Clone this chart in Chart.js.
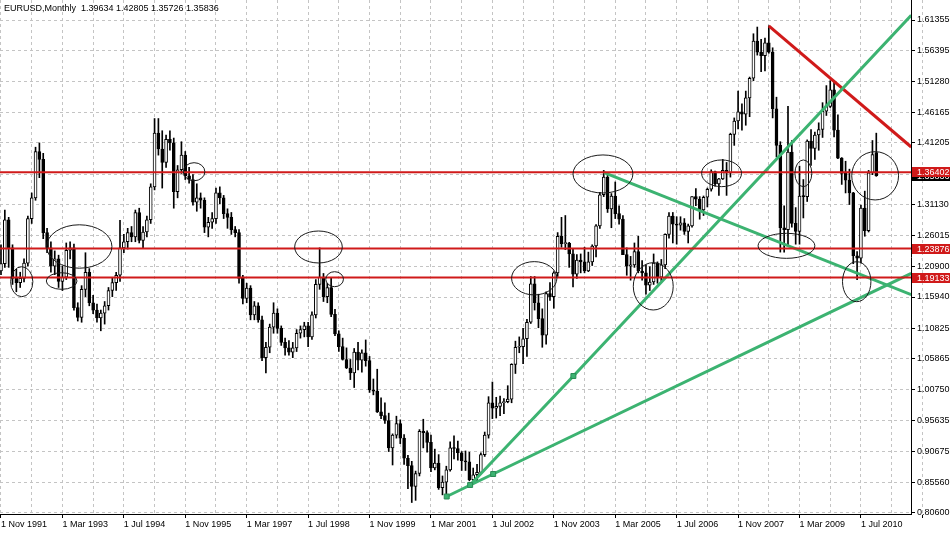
<!DOCTYPE html>
<html>
<head>
<meta charset="utf-8">
<title>EURUSD Monthly</title>
<script src="https://cdn.jsdelivr.net/npm/chart.js@4.4.1/dist/chart.umd.min.js"></script>
<style>
  html, body { margin: 0; padding: 0; background: #fff; }
  #wrap { position: relative; width: 950px; height: 534px; }
</style>
</head>
<body>
<div id="wrap"><canvas id="chart" width="950" height="534"></canvas></div>
<script>
// EURUSD monthly bars, one entry per month from Nov 1991 to Nov 2010
const symbol = 'EURUSD';
const period = 'Monthly';

const opens = [
  1.202, 1.214,
  1.286, 1.240, 1.190, 1.183, 1.190, 1.215, 1.288, 1.322, 1.398, 1.385, 1.265, 1.240,
  1.210, 1.222, 1.185, 1.192, 1.236, 1.240, 1.142, 1.126, 1.172, 1.200, 1.150, 1.138,
  1.125, 1.133, 1.145, 1.170, 1.183, 1.195, 1.240, 1.250, 1.265, 1.258, 1.298, 1.252,
  1.266, 1.286, 1.340, 1.428, 1.402, 1.380, 1.418, 1.412, 1.332, 1.368, 1.392, 1.358,
  1.352, 1.315, 1.322, 1.318, 1.274, 1.282, 1.288, 1.330, 1.322, 1.296, 1.290, 1.270,
  1.265, 1.190, 1.157, 1.174, 1.130, 1.145, 1.122, 1.060, 1.077, 1.110, 1.133, 1.108,
  1.085, 1.076, 1.069, 1.076, 1.100, 1.106, 1.112, 1.094, 1.130, 1.180, 1.192, 1.160,
  1.175, 1.131, 1.099, 1.078, 1.057, 1.043, 1.035, 1.069, 1.056, 1.068, 1.055, 1.007,
  1.005, 0.971, 0.965, 0.957, 0.912, 0.933, 0.952, 0.928, 0.895, 0.883, 0.849, 0.870,
  0.939, 0.937, 0.921, 0.879, 0.887, 0.847, 0.856, 0.876, 0.912, 0.911, 0.904, 0.891,
  0.889, 0.860, 0.868, 0.872, 0.901, 0.933, 0.986, 0.977, 0.980, 0.986, 0.988, 0.992,
  1.049, 1.077, 1.078, 1.091, 1.118, 1.181, 1.150, 1.124, 1.097, 1.165, 1.160, 1.199,
  1.259, 1.247, 1.248, 1.230, 1.197, 1.220, 1.217, 1.202, 1.217, 1.243, 1.276, 1.327,
  1.356, 1.304, 1.325, 1.296, 1.287, 1.229, 1.210, 1.212, 1.234, 1.202, 1.199, 1.179,
  1.184, 1.215, 1.192, 1.212, 1.262, 1.292, 1.279, 1.277, 1.281, 1.267, 1.276, 1.324,
  1.320, 1.302, 1.323, 1.336, 1.365, 1.345, 1.353, 1.367, 1.363, 1.426, 1.448, 1.463,
  1.459, 1.486, 1.518, 1.579, 1.561, 1.555, 1.576, 1.561, 1.468, 1.408, 1.273, 1.270,
  1.397, 1.280, 1.267, 1.325, 1.324, 1.415, 1.403, 1.425, 1.434, 1.464, 1.472, 1.499,
  1.433, 1.387, 1.362, 1.351, 1.330, 1.227, 1.223, 1.305, 1.268, 1.363, 1.39634
];

const highs = [
  1.245, 1.302,
  1.290, 1.245, 1.205, 1.200, 1.222, 1.292, 1.330, 1.405, 1.412, 1.395, 1.272, 1.250,
  1.235, 1.228, 1.210, 1.248, 1.250, 1.246, 1.150, 1.178, 1.232, 1.206, 1.162, 1.148,
  1.138, 1.152, 1.175, 1.190, 1.200, 1.285, 1.262, 1.272, 1.275, 1.302, 1.305, 1.275,
  1.292, 1.345, 1.452, 1.452, 1.432, 1.425, 1.432, 1.420, 1.375, 1.414, 1.398, 1.372,
  1.360, 1.345, 1.330, 1.322, 1.290, 1.298, 1.338, 1.340, 1.326, 1.304, 1.298, 1.275,
  1.270, 1.195, 1.182, 1.178, 1.152, 1.150, 1.128, 1.085, 1.115, 1.150, 1.140, 1.112,
  1.092, 1.088, 1.085, 1.106, 1.112, 1.118, 1.118, 1.135, 1.188, 1.240, 1.198, 1.182,
  1.191, 1.139, 1.104, 1.092, 1.076, 1.057, 1.075, 1.085, 1.073, 1.089, 1.062, 1.025,
  1.041, 0.994, 0.986, 0.969, 0.935, 0.964, 0.958, 0.934, 0.900, 0.890, 0.874, 0.942,
  0.959, 0.940, 0.933, 0.910, 0.901, 0.866, 0.882, 0.922, 0.932, 0.923, 0.906, 0.907,
  0.905, 0.879, 0.885, 0.904, 0.938, 0.996, 1.020, 0.995, 0.997, 0.993, 1.014, 1.050,
  1.087, 1.094, 1.108, 1.123, 1.193, 1.193, 1.164, 1.140, 1.168, 1.183, 1.201, 1.265,
  1.290, 1.293, 1.249, 1.239, 1.229, 1.230, 1.241, 1.233, 1.245, 1.278, 1.331, 1.367,
  1.359, 1.329, 1.348, 1.309, 1.293, 1.240, 1.226, 1.248, 1.259, 1.219, 1.212, 1.209,
  1.230, 1.217, 1.221, 1.263, 1.298, 1.298, 1.291, 1.291, 1.288, 1.279, 1.324, 1.337,
  1.324, 1.325, 1.338, 1.368, 1.366, 1.354, 1.385, 1.380, 1.428, 1.453, 1.497, 1.476,
  1.497, 1.520, 1.591, 1.602, 1.582, 1.584, 1.604, 1.568, 1.487, 1.414, 1.309, 1.472,
  1.416, 1.306, 1.374, 1.352, 1.417, 1.434, 1.430, 1.445, 1.478, 1.506, 1.514, 1.514,
  1.458, 1.388, 1.382, 1.369, 1.331, 1.234, 1.310, 1.333, 1.367, 1.416, 1.42805
];

const lows = [
  1.196, 1.208,
  1.208, 1.180, 1.168, 1.175, 1.184, 1.210, 1.280, 1.318, 1.355, 1.255, 1.232, 1.200,
  1.196, 1.175, 1.170, 1.188, 1.222, 1.138, 1.120, 1.118, 1.160, 1.145, 1.132, 1.118,
  1.104, 1.115, 1.138, 1.160, 1.170, 1.185, 1.232, 1.238, 1.250, 1.250, 1.248, 1.240,
  1.258, 1.280, 1.335, 1.392, 1.338, 1.372, 1.400, 1.305, 1.322, 1.362, 1.352, 1.346,
  1.310, 1.300, 1.305, 1.265, 1.258, 1.272, 1.280, 1.312, 1.288, 1.272, 1.262, 1.258,
  1.182, 1.148, 1.150, 1.122, 1.122, 1.118, 1.055, 1.035, 1.068, 1.100, 1.100, 1.080,
  1.064, 1.064, 1.060, 1.070, 1.092, 1.094, 1.078, 1.090, 1.125, 1.172, 1.152, 1.150,
  1.127, 1.096, 1.070, 1.056, 1.042, 1.024, 1.011, 1.040, 1.036, 1.046, 1.003, 0.999,
  0.970, 0.960, 0.952, 0.906, 0.884, 0.928, 0.919, 0.885, 0.845, 0.8225, 0.826, 0.866,
  0.912, 0.905, 0.873, 0.876, 0.844, 0.835, 0.837, 0.874, 0.894, 0.892, 0.875, 0.875,
  0.858, 0.856, 0.858, 0.870, 0.898, 0.928, 0.960, 0.961, 0.965, 0.968, 0.986, 0.986,
  1.034, 1.068, 1.050, 1.062, 1.116, 1.138, 1.109, 1.077, 1.082, 1.154, 1.141, 1.193,
  1.241, 1.237, 1.208, 1.176, 1.190, 1.199, 1.199, 1.201, 1.211, 1.225, 1.272, 1.324,
  1.298, 1.273, 1.288, 1.279, 1.229, 1.195, 1.187, 1.208, 1.199, 1.187, 1.164, 1.170,
  1.180, 1.182, 1.186, 1.206, 1.256, 1.248, 1.246, 1.269, 1.262, 1.248, 1.274, 1.309,
  1.287, 1.293, 1.307, 1.333, 1.341, 1.326, 1.352, 1.326, 1.356, 1.408, 1.435, 1.433,
  1.441, 1.455, 1.514, 1.556, 1.529, 1.530, 1.559, 1.453, 1.389, 1.233, 1.233, 1.243,
  1.274, 1.246, 1.246, 1.289, 1.316, 1.375, 1.385, 1.400, 1.421, 1.457, 1.470, 1.422,
  1.386, 1.344, 1.330, 1.311, 1.214, 1.188, 1.215, 1.259, 1.266, 1.360, 1.35726
];

const closes = [
  1.214, 1.286,
  1.240, 1.190, 1.183, 1.190, 1.215, 1.288, 1.322, 1.398, 1.385, 1.265, 1.240, 1.210,
  1.222, 1.185, 1.192, 1.236, 1.240, 1.142, 1.126, 1.172, 1.200, 1.150, 1.138, 1.125,
  1.133, 1.145, 1.170, 1.183, 1.195, 1.240, 1.250, 1.265, 1.258, 1.298, 1.252, 1.266,
  1.286, 1.340, 1.428, 1.402, 1.380, 1.418, 1.412, 1.332, 1.368, 1.392, 1.358, 1.352,
  1.315, 1.322, 1.318, 1.274, 1.282, 1.288, 1.330, 1.322, 1.296, 1.290, 1.270, 1.265,
  1.190, 1.157, 1.174, 1.130, 1.145, 1.122, 1.060, 1.077, 1.110, 1.133, 1.108, 1.085,
  1.076, 1.069, 1.076, 1.100, 1.106, 1.112, 1.094, 1.130, 1.180, 1.192, 1.160, 1.175,
  1.131, 1.099, 1.078, 1.057, 1.043, 1.035, 1.069, 1.056, 1.068, 1.055, 1.007, 1.005,
  0.971, 0.965, 0.957, 0.912, 0.933, 0.952, 0.928, 0.895, 0.883, 0.849, 0.870, 0.939,
  0.937, 0.921, 0.879, 0.887, 0.847, 0.856, 0.876, 0.912, 0.911, 0.904, 0.891, 0.889,
  0.860, 0.868, 0.872, 0.901, 0.933, 0.986, 0.977, 0.980, 0.986, 0.988, 0.992, 1.049,
  1.077, 1.078, 1.091, 1.118, 1.181, 1.150, 1.124, 1.097, 1.165, 1.160, 1.199, 1.259,
  1.247, 1.248, 1.230, 1.197, 1.220, 1.217, 1.202, 1.217, 1.243, 1.276, 1.327, 1.356,
  1.304, 1.325, 1.296, 1.287, 1.229, 1.210, 1.212, 1.234, 1.202, 1.199, 1.179, 1.184,
  1.215, 1.192, 1.212, 1.262, 1.292, 1.279, 1.277, 1.281, 1.267, 1.276, 1.324, 1.320,
  1.302, 1.323, 1.336, 1.365, 1.345, 1.353, 1.367, 1.363, 1.426, 1.448, 1.463, 1.459,
  1.486, 1.518, 1.579, 1.561, 1.555, 1.576, 1.561, 1.468, 1.408, 1.273, 1.270, 1.397,
  1.280, 1.267, 1.325, 1.324, 1.415, 1.403, 1.425, 1.434, 1.464, 1.472, 1.499, 1.433,
  1.387, 1.362, 1.351, 1.330, 1.227, 1.223, 1.305, 1.268, 1.363, 1.393, 1.35836
];

// time axis: a label every 16 bars, a grid line every 8
const dateLabels = ['1 Nov 1991', '1 Mar 1993', '1 Jul 1994', '1 Nov 1995', '1 Mar 1997',
  '1 Jul 1998', '1 Nov 1999', '1 Mar 2001', '1 Jul 2002', '1 Nov 2003', '1 Mar 2005',
  '1 Jul 2006', '1 Nov 2007', '1 Mar 2009', '1 Jul 2010'];
const labelStep = 16;
const gridStep = 8;

// price scale ticks as printed on the right
const priceTicks = [1.61355, 1.56395, 1.51280, 1.46165, 1.41205, 1.36090, 1.31130, 1.26015,
  1.20900, 1.15940, 1.10825, 1.05865, 1.00750, 0.95635, 0.90675, 0.85560, 0.80600];

// horizontal levels (red) with their price tags
const levels = [1.36402, 1.23876, 1.19133];

// trend lines: [bar index, price] points, the first N of each carry a square handle
const steepLine = [[122.2, 0.8512], [149.1, 1.0299], [237.1, 1.6214]];
const shallowLine = [[116.1, 0.8323], [128.2, 0.8692], [237.1, 1.1981]];
const fallingLine = [[157.1, 1.3632], [237.1, 1.1633]];
const redLine = [[200.0, 1.6040], [237.1, 1.4053]];

// hand drawn ellipses: [centre bar, centre price, half width in bars, half height in price]
const ellipses = [
  [5.4, 1.1845, 2.9, 0.0246],
  [20.4, 1.2422, 8.5, 0.0356],
  [15.8, 1.1856, 4.0, 0.0136],
  [50.3, 1.3648, 2.8, 0.0148],
  [82.7, 1.2414, 6.2, 0.0262],
  [86.9, 1.1886, 2.3, 0.0123],
  [138.9, 1.1901, 5.9, 0.0273],
  [156.8, 1.3611, 7.8, 0.0312],
  [169.9, 1.1769, 5.2, 0.0388],
  [187.7, 1.3622, 5.2, 0.0219],
  [204.6, 1.2433, 7.4, 0.0205],
  [209.0, 1.3622, 2.2, 0.0219],
  [227.7, 1.3581, 6.1, 0.0396],
  [222.9, 1.1845, 3.7, 0.0328]
];

const GREEN = '#3cb371';
const RED = '#d01a1a';

Chart.defaults.font.family = '"Liberation Sans", Arial, sans-serif';
Chart.defaults.font.size = 9;
Chart.defaults.color = '#000';

const bars = closes.map((c, i) => i);
const bodyData = bars.map(i => ({ x: i, y: [Math.min(opens[i], closes[i]), Math.max(opens[i], closes[i])] }));
const wickData = bars.map(i => ({ x: i, y: [lows[i], highs[i]] }));
const bodyColors = bars.map(i => closes[i] >= opens[i] ? '#ffffff' : '#000000');

const gridTicks = [];
for (let m = 0; m <= dateLabels.length * labelStep; m += gridStep) gridTicks.push(m);

function trend(points, color, handles) {
    return {
        type: 'line',
        order: 0,
        data: points.map(([m, p]) => ({ x: m, y: p })),
        borderColor: color,
        borderWidth: 3,
        tension: 0,
        fill: false,
        clip: 0,
        pointStyle: 'rect',
        pointRadius: points.map((_, k) => k < handles ? 3.5 : 0),
        pointHoverRadius: 0,
        pointBackgroundColor: color,
        pointBorderColor: '#2a8a55',
        pointBorderWidth: 1
    };
}

// ellipses, levels, price tags and the header line
const overlay = {
    id: 'overlay',
    afterDatasetsDraw(chart) {
        const { ctx, chartArea: a, scales: { x, y } } = chart;
        ctx.save();
        ctx.beginPath();
        ctx.rect(a.left, a.top, a.right - a.left, a.bottom - a.top);
        ctx.clip();

        ctx.strokeStyle = RED;
        ctx.lineWidth = 2;
        levels.forEach(p => {
            const py = y.getPixelForValue(p);
            ctx.beginPath();
            ctx.moveTo(a.left, py);
            ctx.lineTo(a.right, py);
            ctx.stroke();
        });

        ctx.strokeStyle = '#1a1a1a';
        ctx.lineWidth = 1;
        ellipses.forEach(([m, p, dm, dp]) => {
            const cx = x.getPixelForValue(m);
            const cy = y.getPixelForValue(p);
            const rx = Math.abs(x.getPixelForValue(m + dm) - cx);
            const ry = Math.abs(cy - y.getPixelForValue(p + dp));
            ctx.beginPath();
            ctx.ellipse(cx, cy, rx, ry, 0, 0, Math.PI * 2);
            ctx.stroke();
        });
        ctx.restore();
    },
    afterDraw(chart) {
        const { ctx, chartArea: a, scales: { y } } = chart;
        const last = closes.length - 1;
        ctx.save();
        ctx.font = '9px "Liberation Sans", Arial, sans-serif';
        ctx.textBaseline = 'middle';
        ctx.textAlign = 'left';

        const tag = (p, bg) => {
            const py = Math.round(y.getPixelForValue(p));
            ctx.fillStyle = bg;
            ctx.fillRect(a.right + 1, py - 5, chart.width - a.right - 1, 10);
            ctx.fillStyle = '#fff';
            ctx.fillText(p.toFixed(5), a.right + 6, py + 0.5);
        };
        tag(closes[last], '#000');
        levels.forEach(p => tag(p, RED));

        ctx.fillStyle = '#000';
        const head = symbol + ',' + period + '  ' +
            [opens[last], highs[last], lows[last], closes[last]].map(v => v.toFixed(5)).join(' ');
        ctx.fillText(head, 4, 9);
        ctx.restore();
    }
};

new Chart(document.getElementById('chart'), {
    type: 'bar',
    data: {
        datasets: [
            trend(steepLine, GREEN, 2),
            trend(shallowLine, GREEN, 2),
            trend(fallingLine, GREEN, 0),
            trend(redLine, RED, 0),
            {
                label: 'body',
                order: 1,
                data: bodyData,
                backgroundColor: bodyColors,
                borderColor: '#000',
                borderWidth: 1,
                borderSkipped: false,
                barThickness: 3,
                minBarLength: 1,
                grouped: false
            },
            {
                label: 'wick',
                order: 2,
                data: wickData,
                backgroundColor: '#000',
                borderWidth: 0,
                barThickness: 1,
                grouped: false
            }
        ]
    },
    options: {
        responsive: false,
        animation: false,
        events: [],
        layout: { autoPadding: false, padding: 0 },
        plugins: {
            legend: { display: false },
            tooltip: { enabled: false }
        },
        scales: {
            x: {
                type: 'linear',
                min: -0.26,
                max: 237.04,
                offset: false,
                afterBuildTicks: axis => { axis.ticks = gridTicks.map(v => ({ value: v })); },
                afterFit: axis => {
                    axis.height = 20;
                    axis.paddingLeft = 0;
                    axis.paddingRight = 0;
                },
                ticks: {
                    autoSkip: false,
                    maxRotation: 0,
                    minRotation: 0,
                    align: 'start',
                    padding: 1,
                    color: '#000',
                    callback: v => v % labelStep === 0 ? (dateLabels[v / labelStep] || '') : ''
                },
                grid: {
                    offset: false,
                    color: '#c4c4c4',
                    tickLength: 4,
                    tickColor: c => (c.tick && c.tick.value % labelStep === 0) ? '#000' : 'rgba(0,0,0,0)'
                },
                border: { display: true, color: '#000', width: 1, dash: [3, 3] }
            },
            y: {
                position: 'right',
                min: 0.80364,
                max: 1.64634,
                afterBuildTicks: axis => { axis.ticks = priceTicks.map(v => ({ value: v })); },
                afterFit: axis => {
                    axis.width = 39;
                    axis.paddingTop = 0;
                    axis.paddingBottom = 0;
                },
                ticks: {
                    padding: 2,
                    color: '#000',
                    callback: v => v.toFixed(5)
                },
                grid: { color: '#c4c4c4', tickLength: 4, tickColor: '#000' },
                border: { display: true, color: '#000', width: 1, dash: [3, 3] }
            }
        }
    },
    plugins: [overlay]
});
</script>
</body>
</html>
